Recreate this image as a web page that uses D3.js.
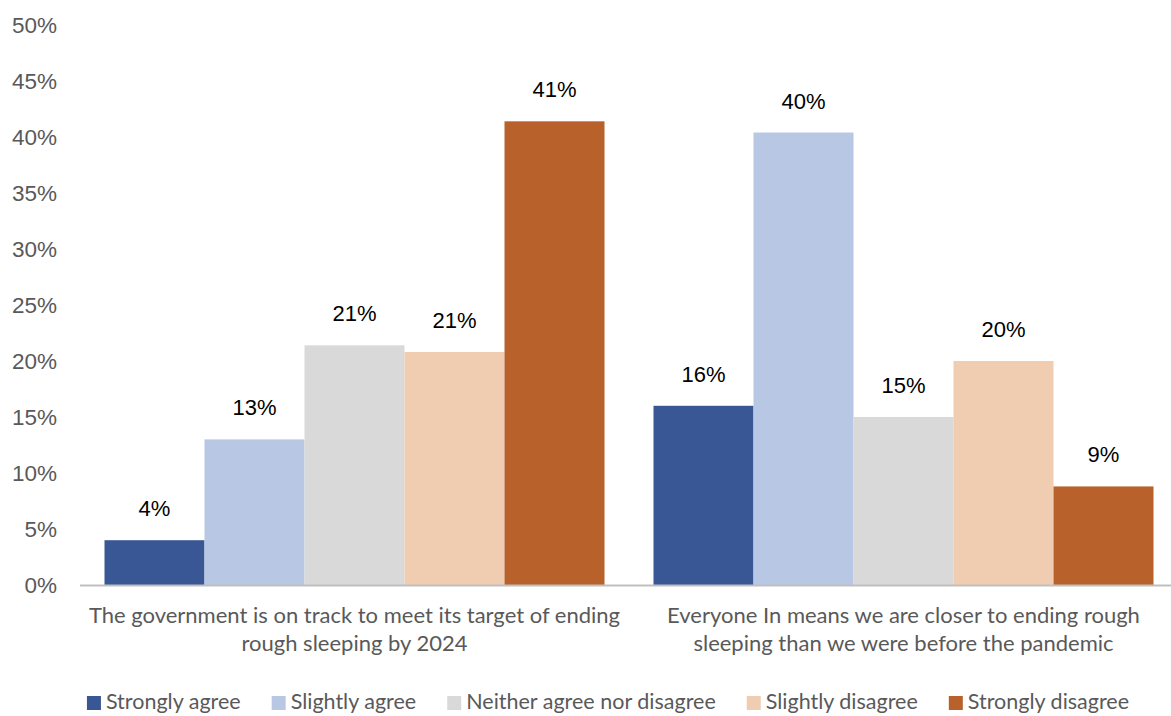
<!DOCTYPE html>
<html>
<head>
<meta charset="utf-8">
<script src="https://cdn.jsdelivr.net/npm/d3@7"></script>
<style>
  html, body { margin: 0; padding: 0; background: #fff; }
  svg { display: block; }
</style>
</head>
<body>
<svg id="chart" width="1171" height="716"></svg>
<script>
// Survey statements (x categories), each label split into its two display lines
const categories = ["gov", "everyone"];
const categoryLines = [
  ["The government is on track to meet its target of ending", "rough sleeping by 2024"],
  ["Everyone In means we are closer to ending rough", "sleeping than we were before the pandemic"]
];

// Response options (series)
const series = ["Strongly agree", "Slightly agree", "Neither agree nor disagree", "Slightly disagree", "Strongly disagree"];
const seriesColors = ["#3A5795", "#B7C7E4", "#D9D9D9", "#F0CDB0", "#B8612B"];

// Share of respondents (%) per statement, in series order
const govValues = [4, 13, 21.4, 20.8, 41.4];
const everyoneValues = [16, 40.4, 15, 20, 8.8];

// Y axis ticks
const yTicks = [0, 5, 10, 15, 20, 25, 30, 35, 40, 45, 50];

const valuesByCategory = [govValues, everyoneValues];

const svg = d3.select("#chart");
const W = 1171, H = 716;

const x0 = d3.scaleBand().domain(categories).range([80, 1178]).padding(0);
const x1 = d3.scaleBand().domain(series)
  .range([24.5, x0.bandwidth() - 24.5]).padding(0);
const y = d3.scaleLinear().domain([0, 50]).range([585, 25]);

// Y tick labels (no axis line, no gridlines)
const yAxis = d3.axisLeft(y).tickValues(yTicks).tickSize(0).tickPadding(0)
  .tickFormat(d => d + "%");
const gy = svg.append("g").attr("transform", "translate(57,0)").call(yAxis);
gy.select(".domain").remove();
gy.selectAll("text")
  .attr("font-family", "Liberation Sans, Arial, sans-serif")
  .attr("font-size", 22.5)
  .attr("fill", "#595959")
  .attr("dy", "0.35em");

// Bars
const groups = svg.append("g").selectAll("g")
  .data(categories)
  .join("g")
  .attr("transform", d => `translate(${x0(d)},0)`);

groups.selectAll("rect")
  .data((d, i) => series.map((s, j) => ({ s, v: valuesByCategory[i][j], c: seriesColors[j] })))
  .join("rect")
  .attr("x", d => x1(d.s))
  .attr("width", x1.bandwidth())
  .attr("y", d => y(d.v))
  .attr("height", d => y(0) - y(d.v))
  .attr("fill", d => d.c);

// Value labels
groups.selectAll("text.val")
  .data((d, i) => series.map((s, j) => ({ s, v: valuesByCategory[i][j] })))
  .join("text")
  .attr("class", "val")
  .attr("x", d => x1(d.s) + x1.bandwidth() / 2)
  .attr("y", d => y(d.v) - 24)
  .attr("text-anchor", "middle")
  .attr("font-family", "Liberation Sans, Arial, sans-serif")
  .attr("font-size", 22)
  .attr("fill", "#000")
  .text(d => d3.format(".0f")(d.v) + "%");

// X axis baseline
svg.append("line")
  .attr("x1", 80).attr("x2", W)
  .attr("y1", y(0) + 0.5).attr("y2", y(0) + 0.5)
  .attr("stroke", "#BFBFBF").attr("stroke-width", 2);

// Category labels
const catG = svg.append("g").selectAll("text")
  .data(categories)
  .join("text")
  .attr("text-anchor", "middle")
  .attr("font-family", "Lato, 'Open Sans', sans-serif")
  .attr("font-size", 22)
  .attr("fill", "#595959");
catG.each(function(d, i) {
  const t = d3.select(this);
  const cx = x0(d) + x0.bandwidth() / 2;
  categoryLines[i].forEach((line, k) => {
    t.append("tspan").attr("x", cx).attr("y", 623 + k * 28).text(line);
  });
});

// Legend
const legend = svg.append("g");
const items = legend.selectAll("g")
  .data(series)
  .join("g");
items.append("rect")
  .attr("width", 14).attr("height", 14)
  .attr("y", -13)
  .attr("fill", (d, i) => seriesColors[i]);
items.append("text")
  .attr("x", 19)
  .attr("font-family", "Lato, 'Open Sans', sans-serif")
  .attr("font-size", 21.5)
  .attr("fill", "#595959")
  .text(d => d);
let cursor = 0;
const gap = 31;
items.each(function() {
  const w = this.getBBox().width;
  d3.select(this).attr("transform", `translate(${cursor},709)`);
  cursor += w + gap;
});
const total = cursor - gap;
legend.attr("transform", `translate(${608 - total / 2},0)`);
</script>
</body>
</html>
